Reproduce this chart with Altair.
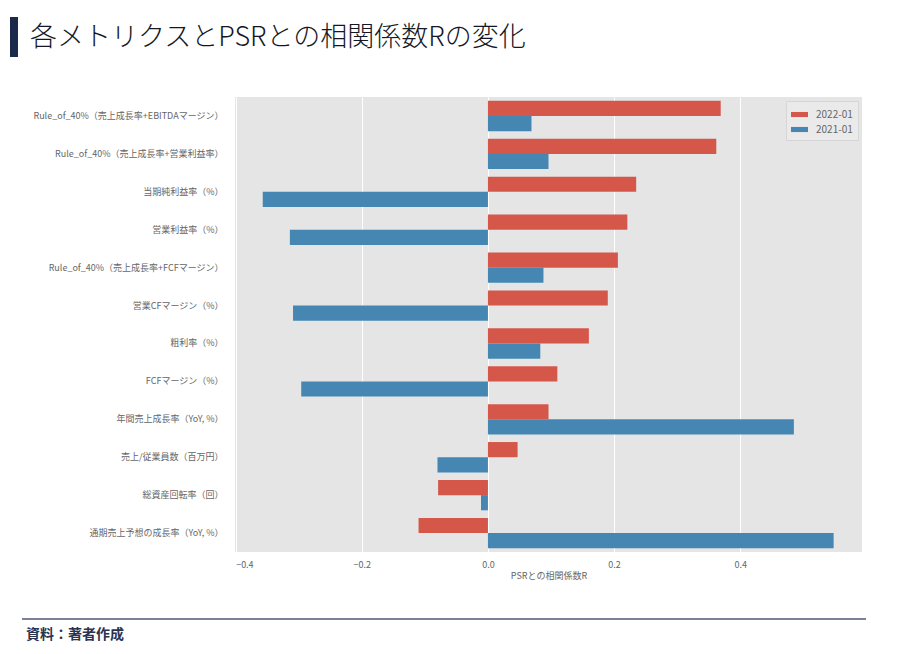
import pandas as pd
import altair as alt

FONT = "Noto Sans CJK JP"

METRICS = [
    "Rule_of_40%（売上成長率+EBITDAマージン）",
    "Rule_of_40%（売上成長率+営業利益率）",
    "当期純利益率（%）",
    "営業利益率（%）",
    "Rule_of_40%（売上成長率+FCFマージン）",
    "営業CFマージン（%）",
    "粗利率（%）",
    "FCFマージン（%）",
    "年間売上成長率（YoY, %）",
    "売上/従業員数（百万円）",
    "総資産回転率（回）",
    "通期売上予想の成長率（YoY, %）",
]

SERIES = ["2022-01", "2021-01"]
SERIES_COLORS = ["#D4574A", "#4587B2"]

R_2022 = [0.369, 0.362, 0.235, 0.221, 0.206, 0.190, 0.160, 0.110, 0.096, 0.047, -0.079, -0.110]
R_2021 = [0.069, 0.096, -0.357, -0.314, 0.088, -0.309, 0.083, -0.296, 0.485, -0.080, -0.011, 0.548]

X_TICKS = [-0.4, -0.2, 0.0, 0.2, 0.4]

df = pd.DataFrame(
    {
        "metric": METRICS * 2,
        "series": [SERIES[0]] * len(METRICS) + [SERIES[1]] * len(METRICS),
        "r": R_2022 + R_2021,
    }
)

bars = (
    alt.Chart(df)
    .mark_bar()
    .encode(
        x=alt.X(
            "r:Q",
            title="PSRとの相関係数R",
            scale=alt.Scale(domain=[-0.401, 0.593], nice=False, zero=False),
            axis=alt.Axis(
                values=X_TICKS,
                format=".1f",
                grid=True,
                gridColor="white",
                gridWidth=1,
                domain=False,
                ticks=False,
                labelFontSize=9,
                labelColor="#666666",
                labelPadding=8,
                titleFontSize=9,
                titleColor="#666666",
                titleFontWeight="normal",
                titlePadding=2,
            ),
        ),
        y=alt.Y(
            "metric:N",
            sort=METRICS,
            title=None,
            scale=alt.Scale(paddingInner=0.2, paddingOuter=0.1),
            axis=alt.Axis(
                grid=False,
                domain=False,
                ticks=False,
                labelFontSize=9,
                labelColor="#666666",
                labelPadding=12,
                labelLimit=260,
            ),
        ),
        yOffset=alt.YOffset("series:N", sort=SERIES, scale=alt.Scale(paddingInner=0, paddingOuter=0)),
        color=alt.Color(
            "series:N",
            sort=SERIES,
            scale=alt.Scale(domain=SERIES, range=SERIES_COLORS),
            legend=alt.Legend(
                title=None,
                orient="top-right",
                offset=4,
                fillColor="#EAEAEA",
                strokeColor="#D6D6D6",
                padding=5,
                labelFontSize=10,
                labelColor="#666666",
                labelOffset=8,
                symbolType="M-1,-0.3L1,-0.3L1,0.3L-1,0.3Z",
                symbolSize=289,
                symbolStrokeWidth=0,
                rowPadding=1,
            ),
        ),
    )
)

# slide decorations: title with navy marker, footer rule and source note
deco = pd.DataFrame({"t": ["x"]})

title_bar = alt.Chart(deco).mark_rect(color="#1B2A4A").encode(
    x=alt.value(-225), x2=alt.value(-217), y=alt.value(-80), y2=alt.value(-40)
)
title_text = alt.Chart(deco).mark_text(
    text="各メトリクスとPSRとの相関係数Rの変化",
    align="left",
    baseline="middle",
    fontSize=27,
    fontWeight=300,
    color="#141826",
).encode(x=alt.value(-205), y=alt.value(-59))

footer_rule = alt.Chart(deco).mark_rule(color="#7C8199", strokeWidth=2).encode(
    x=alt.value(-213), x2=alt.value(631), y=alt.value(522)
)
footer_text = alt.Chart(deco).mark_text(
    text="資料：著者作成",
    align="left",
    baseline="middle",
    fontSize=14,
    fontWeight="bold",
    color="#2A3350",
).encode(x=alt.value(-209), y=alt.value(538))

chart = (
    alt.layer(bars, title_bar, title_text, footer_rule, footer_text)
    .properties(
        width=627,
        height=455,
        autosize=alt.AutoSizeParams(type="none"),
        padding={"left": 227, "top": 89, "right": 20, "bottom": 96},
    )
    .configure(font=FONT)
    .configure_view(fill="#E5E5E5", stroke=None)
)

chart.save("out.html", embed_options={"renderer": "svg", "actions": False})
